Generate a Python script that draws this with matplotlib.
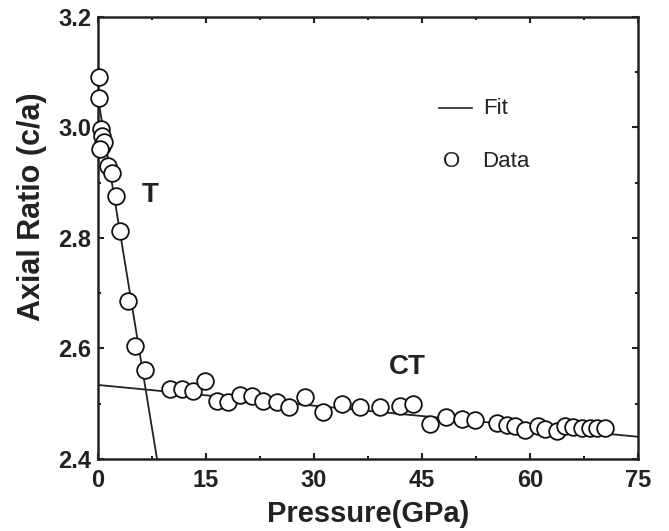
import numpy as np
import matplotlib
matplotlib.use("Agg")
import matplotlib.pyplot as plt
from matplotlib.ticker import MultipleLocator

# datos
presion = [0.2, 0.2, 0.4, 0.55, 0.55, 0.85, 0.3, 1.4, 1.95, 2.5, 3.05, 4.2, 5.1, 6.5,
           10.0, 11.7, 13.2, 14.9, 16.5, 18.1, 19.7, 21.4, 22.9, 24.9, 26.5, 28.75,
           31.25, 33.9, 36.4, 39.2, 41.9, 43.75, 46.1, 48.3, 50.6, 52.4, 55.4, 56.8,
           57.9, 59.3, 61.1, 62.1, 63.75, 64.9, 66.0, 67.2, 68.3, 69.3, 70.4]
razon = [3.091, 3.053, 2.997, 2.985, 2.967, 2.974, 2.961, 2.930, 2.918, 2.876, 2.813,
         2.686, 2.605, 2.561, 2.527, 2.527, 2.523, 2.541, 2.505, 2.503, 2.516, 2.514,
         2.505, 2.503, 2.494, 2.512, 2.485, 2.500, 2.494, 2.494, 2.496, 2.500, 2.463,
         2.476, 2.472, 2.471, 2.465, 2.462, 2.460, 2.453, 2.460, 2.454, 2.451, 2.460,
         2.458, 2.456, 2.456, 2.456, 2.456]

# parámetros de los ajustes lineales
t_intercepto, t_pendiente = 3.054, -0.0798
ct_intercepto, ct_pendiente = 2.534, -0.00125

plt.rcParams['font.family'] = ['Liberation Sans', 'DejaVu Sans']

fig = plt.figure(figsize=(6.69, 5.31), dpi=100)
ax = fig.add_axes([0.1465, 0.1356, 0.8072, 0.8324])

# ajuste fase T
p_fin = (2.4 - t_intercepto) / t_pendiente
p_t = np.array([0, p_fin])
ax.plot(p_t, t_intercepto + t_pendiente * p_t, color='#222222', lw=1.3)

# ajuste fase CT
p_ct = np.array([0, 75])
ax.plot(p_ct, ct_intercepto + ct_pendiente * p_ct, color='#222222', lw=1.3)

ax.plot(presion, razon, 'o', mfc='white', mec='#111111', ms=12, mew=1.3, clip_on=False, zorder=3)

ax.set_xlim(0, 75)
ax.set_ylim(2.4, 3.2)
ax.xaxis.set_major_locator(MultipleLocator(15))
ax.xaxis.set_minor_locator(MultipleLocator(7.5))
ax.yaxis.set_major_locator(MultipleLocator(0.2))
ax.yaxis.set_minor_locator(MultipleLocator(0.1))
ax.tick_params(which='both', direction='in', top=True, right=True, width=1.5, color='#222222')
ax.tick_params(which='major', length=4.5)
ax.tick_params(which='minor', length=2.5)
ax.tick_params(axis='x', pad=7)
ax.tick_params(axis='y', pad=5)
for lbl in ax.get_xticklabels() + ax.get_yticklabels():
    lbl.set_fontsize(17)
    lbl.set_fontweight('bold')
    lbl.set_color('#222222')
for s in ax.spines.values():
    s.set_linewidth(1.8)
    s.set_color('#222222')

ax.set_xlabel('Pressure(GPa)', fontsize=21, fontweight='bold', color='#222222', labelpad=6)
ax.set_ylabel('Axial Ratio (c/a)', fontsize=22, fontweight='bold', color='#222222')
ax.yaxis.set_label_coords(-0.094, 0.57)

ax.text(7.2, 2.878, 'T', fontsize=20, fontweight='bold', color='#222222', ha='center', va='center')
ax.text(42.9, 2.567, 'CT', fontsize=20, fontweight='bold', color='#222222', ha='center', va='center')

# leyenda hecha a mano
ax.plot([0.631, 0.693], [0.794, 0.794], color='#222222', lw=1.2, transform=ax.transAxes)
ax.text(0.713, 0.794, 'Fit', fontsize=16, color='#222222', va='center', transform=ax.transAxes)
ax.text(0.639, 0.672, 'O', fontsize=16, color='#222222', va='center', transform=ax.transAxes)
ax.text(0.711, 0.672, 'Data', fontsize=16, color='#222222', va='center', transform=ax.transAxes)

fig.savefig('out.png', dpi=100)
